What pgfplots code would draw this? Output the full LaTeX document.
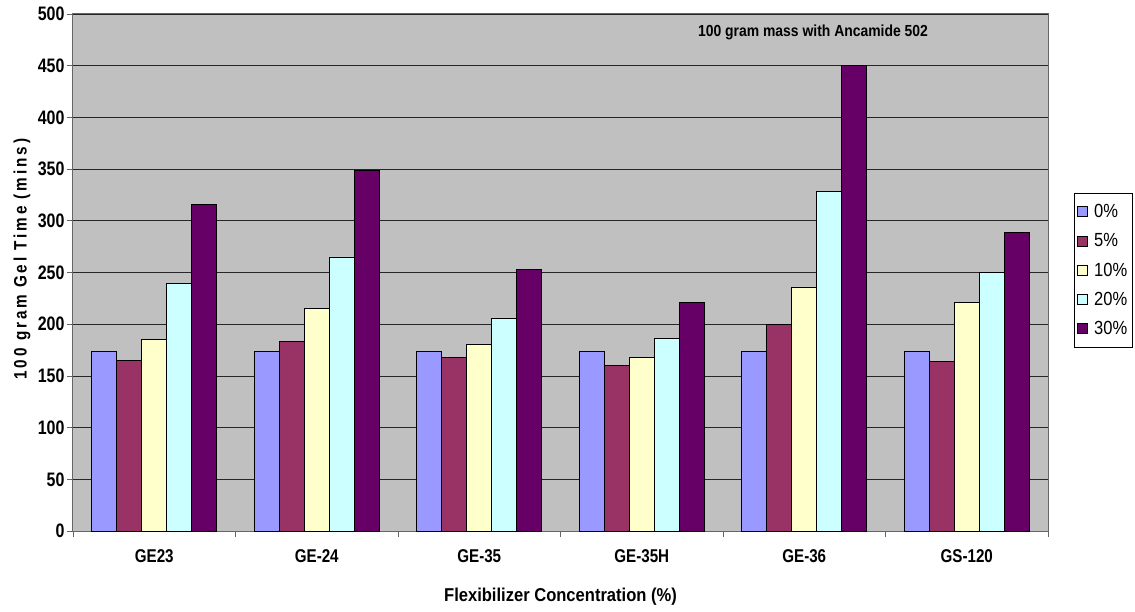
\documentclass[border=0pt]{standalone}
\usepackage{fontspec}
\setmainfont{Liberation Sans}
\newfontfamily\cfa[FakeStretch=0.82]{Liberation Sans}
\newfontfamily\cfb[FakeStretch=0.89]{Liberation Sans}
\newfontfamily\cfc[FakeStretch=0.87]{Liberation Sans}
\newfontfamily\cfy[FakeStretch=0.85,LetterSpace=16]{Liberation Sans}
\usepackage{pgfplots}
\pgfplotsset{compat=1.18}
\definecolor{bgc}{RGB}{192,192,192}
\definecolor{cA}{RGB}{153,153,255}
\definecolor{cB}{RGB}{153,51,102}
\definecolor{cC}{RGB}{255,255,204}
\definecolor{cD}{RGB}{204,255,255}
\definecolor{cE}{RGB}{102,0,102}
\begin{document}
\begin{tikzpicture}
\path[use as bounding box] (-73pt,-80pt) rectangle (1062pt,531pt);
\begin{axis}[
  at={(0,0)}, anchor=south west,
  scale only axis, width=975pt, height=517pt,
  ybar=0pt, bar width=25pt,
  xmin=-0.5, xmax=5.5, ymin=0, ymax=500,
  xtick={-0.5,0.5,1.5,2.5,3.5,4.5,5.5},
  xticklabels={GE23,GE-24,GE-35,GE-35H,GE-36,GS-120,{}},
  xticklabel style={anchor=center, xshift=81.25pt, yshift=-19pt, font=\cfa\bfseries\fontsize{18.5}{20}\selectfont},
  ytick={0,50,...,500},
  yticklabel style={font=\cfa\bfseries\fontsize{19.5}{21}\selectfont, xshift=1pt},
  /pgf/number format/assume math mode=true,
  tick pos=left,
  tick align=outside, major tick length=6pt,
  tick style={black!60, line width=0.8pt},
  axis background/.style={fill=bgc},
  axis line style={black!60, line width=1pt},
  ymajorgrids, grid style={black!85, line width=0.8pt},
  every axis x label/.style={at={(axis description cs:0.5,0)}, yshift=-66pt, anchor=center, font=\cfb\bfseries\fontsize{18.6}{20}\selectfont},
  every axis y label/.style={at={(axis description cs:0,0.526)}, xshift=-51pt, rotate=90, anchor=center, font=\cfy\bfseries\fontsize{18}{20}\selectfont},
  xlabel={Flexibilizer Concentration (\%)},
  ylabel={100 gram Gel Time (mins)},
  legend style={at={(axis description cs:1.0267,0.6538)}, anchor=north west, draw=black, line width=0.8pt, fill=white, font=\cfc\fontsize{19}{20}\selectfont, row sep=10.5pt, inner xsep=3pt, inner ysep=9pt, cells={anchor=west}, /tikz/every odd column/.append style={column sep=4pt}},
  legend image code/.code={\draw[#1,draw=black,line width=0.8pt] (0pt,-5pt) rectangle (10pt,5pt);},
  every axis plot/.append style={draw=black, line width=0.8pt},
]
\addplot[fill=cA] coordinates {(0,174) (1,174) (2,174) (3,174) (4,174) (5,174)};
\addplot[fill=cB] coordinates {(0,165) (1,183) (2,168) (3,160) (4,200) (5,164)};
\addplot[fill=cC] coordinates {(0,185) (1,215) (2,180) (3,168) (4,236) (5,221)};
\addplot[fill=cD] coordinates {(0,239) (1,265) (2,206) (3,186) (4,328) (5,250)};
\addplot[fill=cE] coordinates {(0,316) (1,349) (2,253) (3,221) (4,450) (5,289)};
\legend{0\%,5\%,10\%,20\%,30\%}
\node[font=\cfc\bfseries\fontsize{16}{18}\selectfont] at (rel axis cs:0.759,0.965) {100 gram mass with Ancamide 502};
\end{axis}
\end{tikzpicture}
\end{document}
